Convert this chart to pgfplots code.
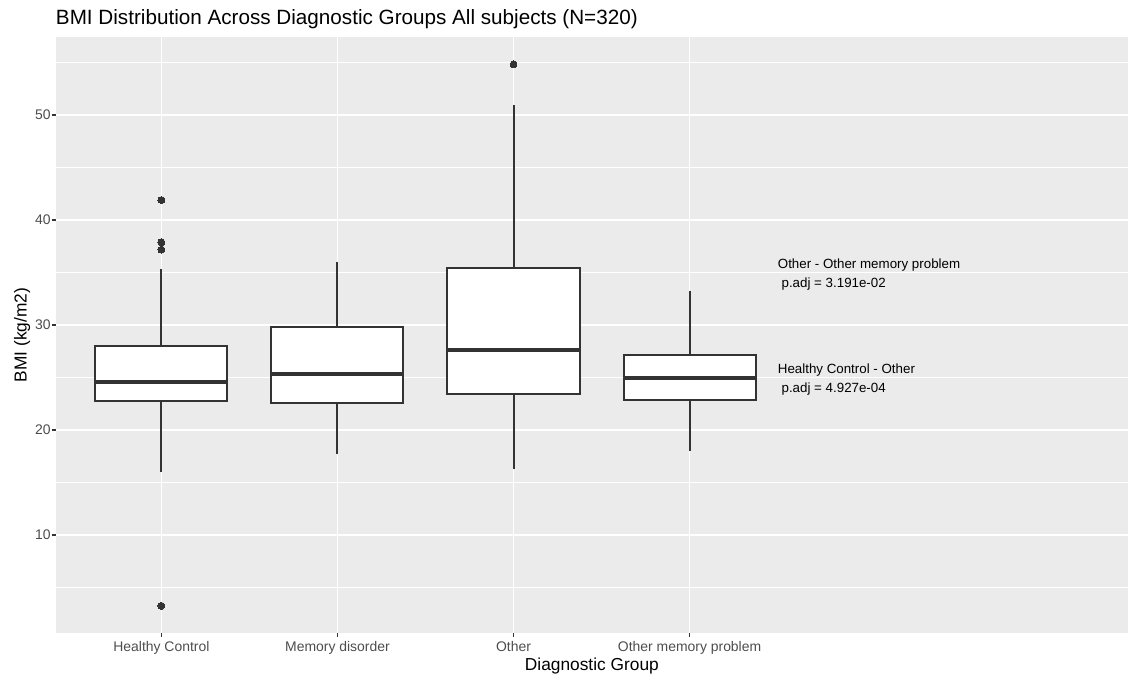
\documentclass[border=0pt]{standalone}
\usepackage{fontspec}
\setmainfont{Liberation Sans}
\usepackage{pgfplots}
\pgfplotsset{compat=1.18}
\usepgfplotslibrary{statistics}
\definecolor{panelbg}{HTML}{EBEBEB}
\definecolor{boxcol}{HTML}{333333}
\definecolor{ticklab}{HTML}{4D4D4D}
\begin{document}
\begin{tikzpicture}
\begin{axis}[
  at={(0,0)}, anchor=south west,
  scale only axis, width=804.2pt, height=446.6pt,
  xmin=0.4, xmax=6.49, ymin=0.67, ymax=57.4,
  axis background/.style={fill=panelbg},
  axis line style={draw=none},
  xtick={1,2,3,4},
  xticklabels={Healthy Control, Memory disorder, Other, Other memory problem},
  ytick={10,20,30,40,50}, minor ytick={5,15,25,35,45,55},
  xmajorgrids, ymajorgrids, yminorgrids,
  major grid style={white, line width=1.1pt},
  minor grid style={white, line width=0.55pt},
  tick pos=left, tick align=outside,
  major tick length=3pt, minor tick length=0pt,
  major tick style={boxcol, line width=1.3pt},
  minor tick style={draw=none},
  /pgf/number format/assume math mode=true,
  xticklabel style={font=\fontsize{10.45}{12}\selectfont, text=ticklab, anchor=base, inner sep=0pt, yshift=-11.25pt},
  yticklabel style={font=\fontsize{10.45}{12}\selectfont, text=ticklab, anchor=east, inner sep=0pt, xshift=-0.6pt},
  clip=false,
  boxplot/draw direction=y,
  boxplot/whisker extend=0,
  boxplot/box extend=0.75,
  boxplot/every box/.style={draw=boxcol, fill=white, line width=1.5pt},
  boxplot/every whisker/.style={draw=boxcol, line width=1.5pt},
  boxplot/every median/.style={draw=boxcol, line width=2.8pt},
]
\addplot[boxplot prepared={draw position=1, lower whisker=16.03, lower quartile=22.79,
  median=24.54, upper quartile=27.97, upper whisker=35.33},
  fill=white, draw=boxcol, line width=1.5pt,
  mark=*, mark size=2.6pt, mark options={fill=boxcol, draw=boxcol, line width=0pt}]
  table[row sep=\\, y index=0] {bmi\\ 41.9\\ 37.88\\ 37.17\\ 3.24\\};
\addplot[boxplot prepared={draw position=2, lower whisker=17.71, lower quartile=22.54,
  median=25.33, upper quartile=29.84, upper whisker=36.03},
  fill=white, draw=boxcol, line width=1.5pt]
  coordinates {};
\addplot[boxplot prepared={draw position=3, lower whisker=16.26, lower quartile=23.43,
  median=27.62, upper quartile=35.43, upper whisker=50.92},
  fill=white, draw=boxcol, line width=1.5pt,
  mark=*, mark size=2.6pt, mark options={fill=boxcol, draw=boxcol, line width=0pt}]
  table[row sep=\\, y index=0] {bmi\\ 54.83\\};
\addplot[boxplot prepared={draw position=4, lower whisker=18.0, lower quartile=22.83,
  median=24.92, upper quartile=27.14, upper whisker=33.24},
  fill=white, draw=boxcol, line width=1.5pt]
  coordinates {};
\node[anchor=west, align=left, inner sep=0pt, yshift=-1.5pt, font=\fontsize{10}{13.75}\selectfont]
  at (axis cs:4.5,35) {Other - Other memory problem\\\hspace{2.8pt}p.adj = 3.191e-02};
\node[anchor=west, align=left, inner sep=0pt, yshift=-1.5pt, font=\fontsize{10}{13.75}\selectfont]
  at (axis cs:4.5,25) {Healthy Control - Other\\\hspace{2.8pt}p.adj = 4.927e-04};
\node[anchor=base west, inner sep=0pt, font=\fontsize{15.5}{18}\selectfont]
  at ([yshift=10pt]rel axis cs:0,1) {BMI Distribution Across Diagnostic Groups All subjects (N=320)};
\node[anchor=base, inner sep=0pt, font=\fontsize{13}{15}\selectfont]
  at ([yshift=-28pt]rel axis cs:0.5,0) {Diagnostic Group};
\node[rotate=90, anchor=base, inner sep=0pt, font=\fontsize{13}{15}\selectfont]
  at ([xshift=-21.9pt]rel axis cs:0,0.5) {BMI (kg/m2)};
\end{axis}
\pgfresetboundingbox
\path[use as bounding box] (-41.8pt,-31.7pt) rectangle (804.2pt,474.6pt);
\end{tikzpicture}
\end{document}
